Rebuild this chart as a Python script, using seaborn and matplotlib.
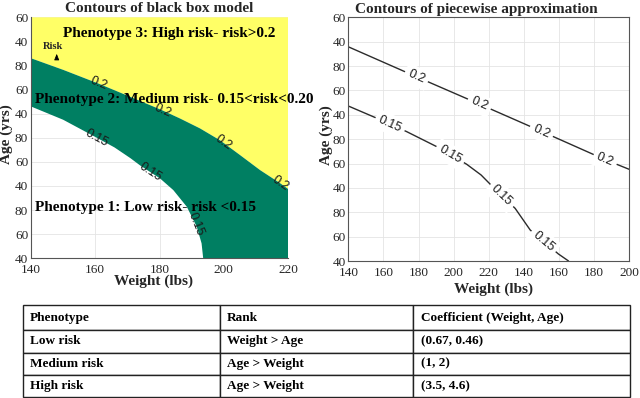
import numpy as np
import pandas as pd
import matplotlib
matplotlib.use("Agg")
import matplotlib.pyplot as plt
import seaborn as sns

# ---------------- data ----------------
age_tick_labels = ["40", "60", "80", "40", "60", "80", "40", "60", "80", "40", "60"]
bb_weight_ticks = [140, 160, 180, 200, 220]
pw_weight_tick_labels = ["140", "160", "180", "200", "220", "140", "160", "180", "200"]

# black box model: region boundaries (weight lbs, age in stacked tick units)
bb_w_020 = [140, 150, 161, 170, 180.7, 186.4, 192.6, 198.8, 205.1, 211.3, 217.5, 220]
bb_a_020 = [8.30, 7.82, 7.25, 6.75, 6.15, 5.80, 5.39, 4.90, 4.28, 3.66, 3.12, 2.88]
bb_w_015 = [140, 150, 160.5, 166, 171, 174, 180.2, 184.3, 188.5, 191.6, 193.1, 193.6]
bb_a_015 = [6.30, 5.75, 5.00, 4.60, 4.15, 3.85, 3.31, 2.83, 2.14, 1.31, 0.62, 0.0]

# piecewise approximation contour lines (weight tick units, age tick units)
pw_x_020 = [0, 1.94, 3.73, 5.50, 7.31, 8.0]
pw_a_020 = [8.79, 7.56, 6.44, 5.32, 4.16, 3.76]
pw_x_015 = [0, 0.81, 1.66, 2.52, 3.37, 3.78, 4.13, 4.75, 5.18, 5.98, 6.27]
pw_a_015 = [6.36, 5.86, 5.31, 4.69, 3.97, 3.53, 3.02, 2.16, 1.27, 0.29, 0.0]

bb_label_w_020 = [161, 181, 200, 217.5]
bb_label_w_015 = [160.5, 177.2, 191.2]
pw_label_x_020 = [1.94, 3.73, 5.50, 7.31]
pw_label_x_015 = [1.19, 2.90, 4.37, 5.56]

table_header = ["Phenotype", "Rank", "Coefficient (Weight, Age)"]
table_rows = [["Low risk", "Weight > Age", "(0.67, 0.46)"],
              ["Medium risk", "Age > Weight", "(1, 2)"],
              ["High risk", "Age > Weight", "(3.5, 4.6)"]]

# ---------------- style ----------------
sns.set_theme(style="white")
SERIF = ["Liberation Serif", "DejaVu Serif"]
SANS = ["Liberation Sans", "DejaVu Sans"]
plt.rcParams["font.family"] = SERIF
GREEN = "#007f62"
YELLOW = "#ffff66"
GRID = "#e4e4e4"
SPINE = "#555555"

fig = plt.figure(figsize=(6.4, 3.98), dpi=100)
W, H = 640.0, 398.0
axL = fig.add_axes([31 / W, 1 - 258.3 / H, 257 / W, 241 / H])
axR = fig.add_axes([348.3 / W, 1 - 261 / H, 281 / W, 243.7 / H])

y_ticks = list(range(len(age_tick_labels)))


def style_axes(ax):
    ax.set_yticks(y_ticks)
    ax.set_yticklabels(age_tick_labels)
    ax.tick_params(direction="in", length=3, width=0.6, color=SPINE,
                   labelsize=9.5, labelcolor="#262626", pad=2)
    ax.tick_params(axis="x", pad=4)
    for lab in ax.get_xticklabels() + ax.get_yticklabels():
        lab.set_family(SERIF)
    ax.grid(True, color=GRID, linewidth=0.6)
    ax.set_axisbelow(True)


def curve_label(ax, xs, ys, x0, text, dx, boxed):
    y0 = np.interp(x0, xs, ys)
    p1 = ax.transData.transform((x0 - dx, np.interp(x0 - dx, xs, ys)))
    p2 = ax.transData.transform((x0 + dx, np.interp(x0 + dx, xs, ys)))
    ang = np.degrees(np.arctan2(p2[1] - p1[1], p2[0] - p1[0]))
    kw = {}
    if boxed:
        kw["bbox"] = dict(boxstyle="square,pad=0.3", fc="white", ec="none")
    ax.text(x0, y0, text, rotation=ang, rotation_mode="anchor", ha="center",
            va="center", fontsize=9, family=SANS, color="#1a1a1a", zorder=5, **kw)


# ---------------- left: black box model ----------------
x_lo, x_hi = bb_weight_ticks[0], bb_weight_ticks[-1]
y_lo, y_hi = y_ticks[0], y_ticks[-1]
axL.set_xlim(x_lo, x_hi)
axL.set_ylim(y_lo, y_hi)
axL.set_xticks(bb_weight_ticks)
style_axes(axL)

yel_x = list(bb_w_020) + [x_hi, x_lo]
yel_y = list(bb_a_020) + [y_hi, y_hi]
axL.fill(yel_x, yel_y, color=YELLOW, lw=0, zorder=1)
grn_x = list(bb_w_020) + [x_hi] + list(bb_w_015[::-1])
grn_y = list(bb_a_020) + [y_lo] + list(bb_a_015[::-1])
axL.fill(grn_x, grn_y, color=GREEN, lw=0, zorder=1)

for s in ["top", "right"]:
    axL.spines[s].set_visible(False)
for s in ["left", "bottom"]:
    axL.spines[s].set_color(SPINE)
    axL.spines[s].set_linewidth(0.8)
    axL.spines[s].set_zorder(3)

for xw in bb_label_w_020:
    curve_label(axL, bb_w_020, bb_a_020, xw, "0.2", 2.0, False)
for xw in bb_label_w_015:
    curve_label(axL, bb_w_015, bb_a_015, xw, "0.15", 1.2, False)

txt_kw = dict(fontsize=11, fontweight="bold", family=SERIF, color="black",
              va="center", ha="left", zorder=6)
axL.text(150.1, 9.34, "Phenotype 3: High risk- risk>0.2", **txt_kw)
axL.text(141.2, 6.60, "Phenotype 2: Medium risk- 0.15<risk<0.20", clip_on=False, **txt_kw)
axL.text(141.2, 2.10, "Phenotype 1: Low risk- risk <0.15", **txt_kw)
axL.text(146.7, 8.80, "Risk", fontsize=7.5, fontweight="bold", family=SERIF,
         ha="center", va="center", zorder=6)
axL.annotate("", xy=(148.0, 8.60), xytext=(148.0, 8.22),
             arrowprops=dict(arrowstyle="-|>,head_width=0.12,head_length=0.3",
                             lw=0.6, color="black"), zorder=6)

axL.set_title("Contours of black box model", fontsize=11, fontweight="bold",
              family=SERIF, pad=4)
axL.set_xlabel("Weight (lbs)", fontsize=11, fontweight="bold", family=SERIF)
axL.xaxis.set_label_coords(0.475, -0.069)
axL.set_ylabel("Age (yrs)", fontsize=11, fontweight="bold", family=SERIF)
axL.yaxis.set_label_coords(-0.069, 0.516)

# ---------------- right: piecewise approximation ----------------
x_ticks_r = list(range(len(pw_weight_tick_labels)))
axR.set_xlim(x_ticks_r[0], x_ticks_r[-1])
axR.set_ylim(y_lo, y_hi)
axR.set_xticks(x_ticks_r)
axR.set_xticklabels(pw_weight_tick_labels)
style_axes(axR)
for s in axR.spines.values():
    s.set_color(SPINE)
    s.set_linewidth(0.8)

df020 = pd.DataFrame({"w": pw_x_020, "a": pw_a_020})
df015 = pd.DataFrame({"w": pw_x_015, "a": pw_a_015})
sns.lineplot(data=df020, x="w", y="a", ax=axR, color="#2b2b2b", lw=1.0,
             sort=False, estimator=None)
sns.lineplot(data=df015, x="w", y="a", ax=axR, color="#2b2b2b", lw=1.0,
             sort=False, estimator=None)
axR.set_xlim(x_ticks_r[0], x_ticks_r[-1])
axR.set_ylim(y_lo, y_hi)

for xw in pw_label_x_020:
    curve_label(axR, pw_x_020, pw_a_020, xw, "0.2", 0.3, True)
for xw in pw_label_x_015:
    curve_label(axR, pw_x_015, pw_a_015, xw, "0.15", 0.3, True)

axR.text(0.457, 1.0 + 4 / 243.7, "Contours of piecewise approximation",
         transform=axR.transAxes, fontsize=11, fontweight="bold", family=SERIF,
         ha="center", va="baseline")
axR.set_xlabel("Weight (lbs)", fontsize=11, fontweight="bold", family=SERIF)
axR.xaxis.set_label_coords(0.515, -0.09)
axR.set_ylabel("Age (yrs)", fontsize=11, fontweight="bold", family=SERIF)
axR.yaxis.set_label_coords(-0.053, 0.517)

# ---------------- table ----------------
axT = fig.add_axes([23.3 / W, 1 / H, 606.7 / W, 91.7 / H])
axT.axis("off")
col_w = [196.7, 193.0, 217.0]
col_w = [c / sum(col_w) for c in col_w]
tbl = axT.table(cellText=table_rows, colLabels=table_header, colWidths=col_w,
                cellLoc="left", colLoc="left", bbox=[0, 0, 1, 1])
tbl.auto_set_font_size(False)
tbl.set_fontsize(9.5)
for (r, c), cell in tbl.get_celld().items():
    cell.set_edgecolor("#222222")
    cell.set_linewidth(1.0)
    cell.set_facecolor("white")
    cell.PAD = 0.035
    cell.set_height(25.0 if r == 0 else 22.2)
    t = cell.get_text()
    t.set_family(SERIF)
    t.set_fontweight("bold")
    t.set_color("black")

fig.savefig("out.png", dpi=100)
